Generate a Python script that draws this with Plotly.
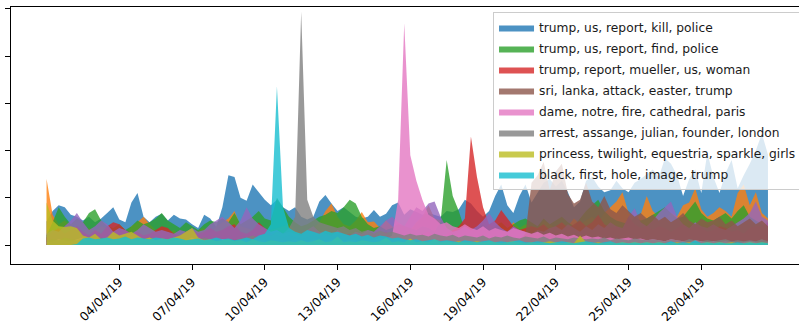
import pandas as pd
import plotly.graph_objects as go

# Six-hourly topic volumes, 1 Apr 2019 00:00 -> 30 Apr 2019 18:00 (120 samples)
timestamps = pd.date_range("2019-04-01 00:00", periods=120, freq="6h")

kill_police = [
    25, 36, 42, 40, 32, 30, 26, 30, 24, 28,
    34, 40, 27, 24, 45, 55, 30, 24, 30, 33,
    26, 32, 28, 27, 22, 18, 32, 28, 19, 40,
    74, 72, 50, 47, 64, 56, 48, 42, 48, 40,
    36, 40, 30, 27, 30, 46, 53, 44, 36, 40,
    35, 30, 28, 30, 37, 30, 33, 42, 45, 32,
    38, 35, 32, 34, 32, 30, 36, 35, 38, 48,
    44, 36, 30, 36, 52, 64, 42, 34, 52, 64,
    45, 55, 66, 70, 62, 68, 56, 40, 46, 68,
    72, 62, 56, 58, 68, 60, 56, 66, 70, 75,
    80, 72, 92, 86, 74, 52, 70, 80, 55, 98,
    72, 55, 76, 90, 60, 74, 86, 100, 118, 96,
]
unlabelled_orange = [
    70, 32, 22, 26, 20, 16, 14, 18, 15, 20,
    18, 14, 16, 12, 20, 24, 30, 22, 16, 14,
    12, 16, 10, 14, 12, 15, 18, 12, 20, 24,
    28, 36, 20, 18, 16, 14, 12, 16, 18, 20,
    22, 16, 12, 14, 18, 24, 36, 44, 30, 22,
    20, 26, 35, 24, 25, 18, 26, 20, 14, 12,
    16, 24, 30, 42, 28, 26, 18, 14, 16, 20,
    18, 14, 16, 22, 18, 20, 16, 24, 18, 22,
    20, 18, 26, 22, 18, 24, 20, 28, 22, 26,
    30, 24, 34, 40, 46, 56, 34, 28, 32, 52,
    36, 30, 28, 34, 30, 42, 45, 60, 38, 30,
    34, 40, 36, 30, 55, 64, 42, 56, 34, 28,
]
find_police = [
    10, 24, 40, 30, 22, 28, 24, 34, 38, 26,
    20, 18, 22, 16, 20, 26, 22, 24, 28, 34,
    26, 22, 18, 24, 20, 16, 22, 26, 24, 28,
    24, 34, 22, 26, 30, 36, 28, 26, 50, 40,
    30, 24, 20, 22, 26, 30, 32, 36, 34, 40,
    48, 44, 30, 22, 18, 20, 16, 18, 22, 20,
    18, 16, 20, 18, 14, 25, 90, 52, 36, 16,
    14, 18, 22, 16, 20, 24, 18, 22, 26, 28,
    24, 20, 28, 22, 26, 30, 24, 20, 28, 36,
    42, 48, 36, 30, 26, 24, 22, 30, 26, 28,
    32, 36, 40, 34, 28, 30, 38, 46, 34, 28,
    26, 30, 34, 28, 36, 42, 30, 26, 22, 18,
]
mueller_woman = [
    8, 14, 18, 12, 16, 20, 14, 10, 16, 12,
    20, 24, 22, 16, 12, 14, 10, 12, 16, 20,
    18, 12, 10, 14, 16, 12, 14, 18, 14, 16,
    20, 22, 14, 12, 16, 24, 18, 12, 10, 8,
    10, 8, 6, 8, 10, 8, 12, 10, 8, 10,
    12, 8, 6, 8, 10, 12, 14, 8, 6, 8,
    10, 8, 12, 14, 10, 8, 12, 16, 20, 28,
    115, 72, 40, 22, 26, 37, 28, 20, 16, 18,
    20, 18, 22, 16, 20, 24, 18, 22, 26, 20,
    24, 32, 22, 18, 20, 16, 30, 22, 18, 20,
    16, 20, 18, 14, 18, 22, 16, 20, 18, 14,
    16, 20, 18, 14, 16, 12, 18, 20, 19, 24,
]
unlabelled_purple = [
    12, 16, 14, 20, 26, 34, 24, 16, 20, 26,
    22, 14, 18, 16, 12, 16, 22, 18, 14, 16,
    14, 12, 16, 14, 18, 14, 16, 22, 26, 30,
    24, 18, 26, 40, 28, 22, 18, 14, 16, 12,
    14, 12, 10, 16, 20, 14, 12, 10, 16, 12,
    10, 14, 12, 16, 14, 20, 26, 30, 24, 20,
    30, 40, 36, 44, 46, 30, 18, 14, 16, 20,
    16, 20, 26, 34, 24, 18, 14, 20, 16, 14,
    12, 16, 14, 18, 20, 16, 22, 18, 14, 20,
    16, 22, 18, 24, 20, 18, 30, 39, 24, 20,
    26, 34, 40, 46, 30, 22, 18, 24, 20, 18,
    22, 18, 16, 20, 24, 28, 34, 46, 30, 26,
]
sri_lanka = [
    2, 3, 2, 2, 3, 2, 2, 3, 2, 2,
    3, 2, 2, 3, 2, 2, 3, 2, 2, 3,
    2, 3, 2, 2, 3, 2, 2, 3, 2, 2,
    3, 2, 2, 3, 2, 2, 3, 2, 2, 3,
    2, 3, 2, 2, 3, 2, 2, 3, 2, 2,
    3, 2, 2, 3, 2, 2, 3, 2, 2, 3,
    2, 3, 2, 2, 3, 2, 2, 3, 2, 2,
    3, 2, 2, 3, 2, 2, 3, 2, 4, 12,
    66, 74, 88, 58, 78, 86, 54, 44, 48, 66,
    46, 40, 52, 38, 34, 42, 36, 30, 34, 28,
    32, 26, 30, 24, 28, 34, 26, 22, 28, 24,
    26, 30, 22, 26, 20, 24, 28, 22, 26, 20,
]
notre_dame = [
    3, 4, 6, 5, 4, 6, 8, 5, 4, 6,
    5, 4, 6, 8, 5, 4, 6, 5, 4, 6,
    5, 4, 6, 5, 8, 4, 6, 5, 4, 6,
    5, 4, 6, 5, 4, 6, 5, 4, 6, 5,
    4, 6, 5, 4, 6, 5, 4, 6, 5, 4,
    6, 5, 4, 6, 5, 8, 6, 10, 48, 235,
    95, 68, 48, 32, 28, 22, 24, 20, 18, 22,
    18, 16, 20, 15, 18, 16, 14, 18, 16, 14,
    12, 14, 11, 13, 10, 12, 9, 11, 8, 10,
    8, 9, 7, 8, 6, 7, 8, 6, 7, 5,
    6, 5, 4, 6, 5, 4, 3, 5, 4, 3,
    4, 3, 4, 3, 2, 3, 4, 3, 2, 3,
]
assange = [
    4, 6, 5, 8, 6, 5, 7, 6, 5, 8,
    6, 5, 7, 8, 6, 5, 6, 8, 7, 5,
    6, 8, 5, 7, 6, 5, 8, 6, 7, 5,
    6, 5, 7, 8, 10, 8, 12, 10, 14, 12,
    18, 30, 247, 48, 30, 24, 22, 20, 18, 20,
    16, 18, 14, 16, 12, 15, 13, 14, 12, 10,
    12, 10, 11, 9, 12, 10, 9, 11, 8, 10,
    9, 8, 10, 7, 9, 8, 10, 8, 7, 9,
    8, 7, 9, 6, 8, 7, 6, 8, 7, 6,
    7, 6, 8, 5, 7, 6, 5, 7, 6, 5,
    6, 5, 4, 6, 5, 4, 6, 5, 4, 5,
    4, 5, 6, 4, 5, 4, 5, 4, 6, 4,
]
twilight = [
    45, 26, 20, 19, 20, 18, 10, 8, 12, 6,
    8, 14, 10, 12, 14, 10, 6, 8, 5, 7,
    6, 8, 10, 14, 18, 8, 5, 6, 4, 5,
    6, 4, 5, 3, 6, 4, 3, 5, 4, 3,
    4, 3, 5, 3, 4, 6, 3, 4, 9, 3,
    4, 3, 5, 4, 3, 4, 8, 3, 4, 3,
    7, 3, 4, 3, 6, 3, 4, 3, 4, 3,
    3, 4, 3, 4, 3, 2, 3, 4, 3, 2,
    3, 2, 3, 4, 3, 2, 3, 2, 10, 3,
    2, 3, 2, 3, 2, 3, 2, 3, 2, 3,
    2, 3, 2, 2, 3, 2, 3, 2, 2, 3,
    2, 3, 2, 3, 2, 2, 3, 2, 3, 2,
]
black_hole = [
    0, 0, 0, 0, 0, 1, 7, 8, 6, 7,
    8, 6, 7, 9, 6, 8, 7, 6, 8, 7,
    6, 8, 7, 5, 6, 7, 5, 6, 8, 6,
    7, 5, 6, 8, 6, 10, 12, 22, 168, 40,
    18, 14, 12, 16, 14, 12, 15, 13, 14, 12,
    10, 12, 9, 11, 8, 10, 9, 7, 8, 6,
    5, 6, 4, 5, 6, 4, 5, 4, 3, 5,
    4, 3, 4, 5, 3, 4, 3, 4, 5, 3,
    3, 4, 3, 2, 3, 4, 3, 2, 3, 4,
    3, 2, 3, 4, 2, 3, 2, 3, 2, 3,
    2, 3, 2, 4, 2, 3, 2, 5, 2, 3,
    2, 3, 2, 2, 3, 2, 3, 2, 3, 2,
]

topics = [
    ("trump, us, report, kill, police", kill_police, (31, 119, 180), True),
    ("", unlabelled_orange, (255, 127, 14), False),
    ("trump, us, report, find, police", find_police, (44, 160, 44), True),
    ("trump, report, mueller, us, woman", mueller_woman, (214, 39, 40), True),
    ("", unlabelled_purple, (148, 103, 189), False),
    ("sri, lanka, attack, easter, trump", sri_lanka, (140, 86, 75), True),
    ("dame, notre, fire, cathedral, paris", notre_dame, (227, 119, 194), True),
    ("arrest, assange, julian, founder, london", assange, (127, 127, 127), True),
    ("princess, twilight, equestria, sparkle, girls", twilight, (188, 189, 34), True),
    ("black, first, hole, image, trump", black_hole, (23, 190, 207), True),
]

tick_dates = pd.date_range("2019-04-04", "2019-04-28", freq="3D")

FONT = "DejaVu Sans"
FONT_SIZE = 12.25

fig = go.Figure()
for k, (label, values, (r, g, b), in_legend) in enumerate(topics):
    fig.add_trace(go.Scatter(
        x=timestamps,
        y=values,
        mode="lines",
        line=dict(width=0, color=f"rgb({r},{g},{b})"),
        fill="tozeroy",
        fillcolor=f"rgba({r},{g},{b},0.8)",
        name=label,
        legendgroup=f"topic{k}",
        showlegend=in_legend,
        hoverinfo="skip",
    ))

fig.update_layout(
    width=799,
    height=324,
    margin=dict(l=11, r=0, t=7, b=60, autoexpand=False),
    paper_bgcolor="white",
    plot_bgcolor="white",
    font=dict(family=FONT, size=FONT_SIZE, color="black"),
    legend=dict(
        x=0.6117, y=0.9805, xanchor="left", yanchor="top",
        bgcolor="rgba(255,255,255,0.8)",
        bordercolor="#cccccc", borderwidth=1,
        font=dict(family=FONT, size=FONT_SIZE, color="#1a1a1a"),
        traceorder="grouped",
        tracegroupgap=2,
        itemwidth=35,
    ),
)

fig.update_xaxes(
    type="date",
    range=["2019-03-30 12:48", "2019-05-02 00:43"],
    tickvals=tick_dates,
    tickformat="%d/%m/%y",
    tickangle=-45,
    ticks="outside", ticklen=5, tickwidth=1.2, tickcolor="black",
    showline=True, linecolor="black", linewidth=1.2, mirror=True,
    showgrid=False, zeroline=False,
    tickfont=dict(family=FONT, size=FONT_SIZE, color="black"),
)
fig.update_yaxes(
    range=[-20.1, 252.1],
    tickvals=[0, 50, 100, 150, 200, 250],
    showticklabels=False,
    ticks="outside", ticklen=5, tickwidth=1.2, tickcolor="black",
    showline=True, linecolor="black", linewidth=1.2, mirror=False,
    showgrid=False, zeroline=False,
)

fig.write_html("out.html")
